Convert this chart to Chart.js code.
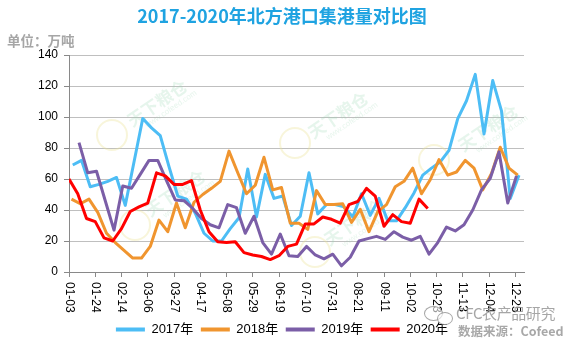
<!DOCTYPE html>
<html>
<head>
<meta charset="utf-8">
<script src="https://cdn.jsdelivr.net/npm/chart.js@4.4.1/dist/chart.umd.min.js"></script>
<style>
    body { margin: 0; background: #fff; }
    #wrap { position: relative; width: 564px; height: 342px; overflow: hidden; }
    #c { position: absolute; left: 0; top: 0; }
    #title { position: absolute; left: 0; top: 5px; width: 564px; text-align: center;
        font: bold 18px "Noto Sans CJK SC", sans-serif; line-height: 20px; color: #1fa3e1; }
    #unit { position: absolute; left: 7px; top: 31px; font: bold 13.5px "Noto Sans CJK SC", sans-serif;
        line-height: 18px; color: #a6a6a6; }
    #brand { position: absolute; left: 456px; top: 303px; font: 15px "Noto Sans CJK SC", sans-serif;
        line-height: 20px; color: rgba(150,150,150,0.85); white-space: nowrap; letter-spacing: -0.4px; }
    #source { position: absolute; left: 458px; top: 321px; font: bold 12.5px "Noto Sans CJK SC", sans-serif;
        line-height: 20px; color: #a8a8a8; white-space: nowrap; }
    .bubble { position: absolute; border: 1.5px solid rgba(150,150,150,0.85); border-radius: 50%; background: rgba(255,255,255,0.6); }
</style>
</head>
<body>
<div id="wrap">
    <canvas id="c" width="564" height="342"></canvas>
    <div id="title">2017-2020年北方港口集港量对比图</div>
    <div id="unit">单位：万吨</div>
    <div class="bubble" style="left:424px;top:306px;width:17px;height:13px;"></div>
    <div class="bubble" style="left:437px;top:312px;width:14px;height:11px;"></div>
    <div id="brand">CFC农产品研究</div>
    <div id="source">数据来源：Cofeed</div>
</div>
<script>
// axis labels, one every three weeks
var weekLabels = ['01-03', '01-24', '02-14', '03-06', '03-27', '04-17', '05-08', '05-29', '06-19',
    '07-10', '07-31', '08-21', '09-11', '10-02', '10-23', '11-13', '12-04', '12-25'];

var seriesNames = ['2017年', '2018年', '2019年', '2020年'];
// date of the first weekly figure of each year
var firstWeek = ['01-06', '01-05', '01-11', '01-03'];
var lineColors = ['#4dbdf5', '#f0952f', '#7b5ea7', '#ff0000'];

// weekly volumes, 万吨
var v2017 = [69, 72, 55, 56.5, 58.5, 61, 43, 71, 99, 93, 88, 68, 49, 47, 38, 25, 20, 20, 28, 35,
    66.5, 35.5, 63, 47.5, 49, 30, 36, 64, 37.5, 43.5, 43.5, 42, 35.5, 50.5, 36.5, 47.5, 33, 33, 41.5, 51,
    62.5, 67, 71, 78.5, 99, 110.5, 127.5, 89, 123.5, 104, 47.5, 62.5];
var v2018 = [47, 44, 47, 38.5, 25, 19, 14, 9, 9, 16.5, 33.5, 26, 44.5, 28.5, 45, 50, 54, 58.5, 78, 64,
    50.5, 56, 74, 53, 54.5, 31.5, 31.5, 27.5, 52.5, 43.5, 43.5, 44, 32, 40.5, 26, 39, 43.5, 55, 58.5, 67,
    50.5, 59.5, 72.5, 62.5, 64.5, 72, 67, 53, 63.5, 80.5, 67, 62.5];
var v2019 = [83.5, 64, 65, 46, 27, 55.5, 54, 63, 72, 72, 59, 46.5, 46, 41, 34.5, 30.5, 28.5, 43.5, 41.5, 25,
    36, 19, 11.5, 24.5, 10.5, 10, 16.5, 11, 8.5, 11.5, 4, 9.5, 20, 21.5, 23, 21, 26, 22.5, 20.5, 23,
    11.5, 19, 29, 26.5, 30.5, 40, 53, 60.5, 77.5, 44.5, 62];
var v2020 = [60, 50.5, 34.5, 32.5, 22, 20, 28, 39, 42, 44.5, 64, 62, 56.5, 56.5, 59, 40, 26, 19.5, 19, 19.5,
    12.5, 11, 10, 8, 10.5, 16.5, 18, 31, 31, 35.5, 34, 31.5, 43.5, 45.5, 54, 49, 29.5, 37, 32.5, 31.5,
    47, 41];
var yearValues = [v2017, v2018, v2019, v2020];

var FONT = '"Liberation Sans", "Noto Sans CJK SC", sans-serif';

// days since 01-03 on a common calendar
function dayOf(mmdd) {
    var p = mmdd.split('-');
    return (Date.UTC(2020, +p[0] - 1, +p[1]) - Date.UTC(2020, 0, 3)) / 86400000;
}

function weekly(start, vals) {
    var d0 = dayOf(start);
    return vals.map(function (v, i) {
        return { x: d0 + 7 * i, y: v };
    });
}

var datasets = yearValues.map(function (vals, i) {
    return {
        label: seriesNames[i],
        data: weekly(firstWeek[i], vals),
        borderColor: lineColors[i],
        backgroundColor: lineColors[i],
        borderWidth: 3,
        borderJoinStyle: 'round',
        pointRadius: 0,
        tension: 0,
        fill: false,
        order: 4 - i,
        xAxisID: 'x',
        yAxisID: 'y'
    };
});

// faint site marks behind the lines
var marks = [[157, 103, 112, 135], [175, 193, 135, 225], [338, 115, 295, 143], [354, 222, 315, 252], [488, 128, 434, 160]];
var watermark = {
    id: 'watermark',
    beforeDatasetsDraw: function (chart) {
        var ctx = chart.ctx;
        ctx.save();
        marks.forEach(function (m) {
            ctx.save();
            ctx.translate(m[0], m[1]);
            ctx.rotate(-0.6);
            ctx.fillStyle = 'rgba(150,215,175,0.24)';
            ctx.textAlign = 'center';
            ctx.textBaseline = 'middle';
            ctx.font = 'bold 17px "Noto Sans CJK SC"';
            ctx.fillText('天下粮仓', 0, 0);
            ctx.font = '8px ' + FONT;
            ctx.fillText('www.cofeed.com', 8, 13);
            ctx.restore();
            ctx.beginPath();
            ctx.arc(m[2], m[3], 15, 0, Math.PI * 2);
            ctx.strokeStyle = 'rgba(235,225,150,0.35)';
            ctx.lineWidth = 2;
            ctx.stroke();
        });
        ctx.restore();
    }
};

// date labels read top to bottom under the axis
var dateLabels = {
    id: 'dateLabels',
    afterDraw: function (chart) {
        var xs = chart.scales.x, ctx = chart.ctx;
        ctx.save();
        ctx.font = '12px ' + FONT;
        ctx.fillStyle = '#000';
        ctx.textAlign = 'left';
        ctx.textBaseline = 'middle';
        xs.ticks.forEach(function (t) {
            var lab = weekLabels[Math.round(t.value / 21)];
            if (!lab) return;
            ctx.save();
            ctx.translate(xs.getPixelForValue(t.value), xs.top + 10);
            ctx.rotate(Math.PI / 2);
            ctx.fillText(lab, 0, 0);
            ctx.restore();
        });
        ctx.restore();
    }
};

new Chart(document.getElementById('c'), {
    type: 'line',
    data: { datasets: datasets },
    plugins: [watermark, dateLabels],
    options: {
        responsive: false,
        animation: false,
        layout: { padding: { top: 55, left: 0, right: 0, bottom: -4 } },
        plugins: {
            tooltip: { enabled: false },
            legend: {
                position: 'bottom',
                labels: {
                    usePointStyle: true,
                    pointStyle: 'line',
                    pointStyleWidth: 29,
                    padding: 7.5,
                    color: '#000',
                    font: { size: 13, family: FONT },
                    sort: function (a, b) { return a.datasetIndex - b.datasetIndex; },
                    generateLabels: function (chart) {
                        return Chart.defaults.plugins.legend.labels.generateLabels(chart).map(function (it) {
                            it.lineWidth = 4;
                            it.pointStyle = 'line';
                            return it;
                        });
                    }
                }
            }
        },
        scales: {
            x: {
                type: 'linear',
                min: 0,
                max: 364,
                ticks: { display: false, stepSize: 21, includeBounds: false },
                grid: { drawOnChartArea: false, drawTicks: true, tickLength: 5, color: '#898989' },
                border: { color: '#898989' },
                afterFit: function (s) { s.height = 43.5; }
            },
            y: {
                min: 0,
                max: 140,
                ticks: { stepSize: 20, color: '#000', padding: 6, font: { size: 12, family: FONT } },
                grid: { color: '#bfbfbf', tickLength: 5, tickColor: '#898989' },
                border: { color: '#898989' },
                afterFit: function (s) { s.width = 69; }
            },
            yr: {
                type: 'linear',
                position: 'right',
                grid: { display: false },
                ticks: { display: false },
                border: { display: false },
                afterFit: function (s) { s.width = 40; }
            }
        }
    }
});
</script>
</body>
</html>
